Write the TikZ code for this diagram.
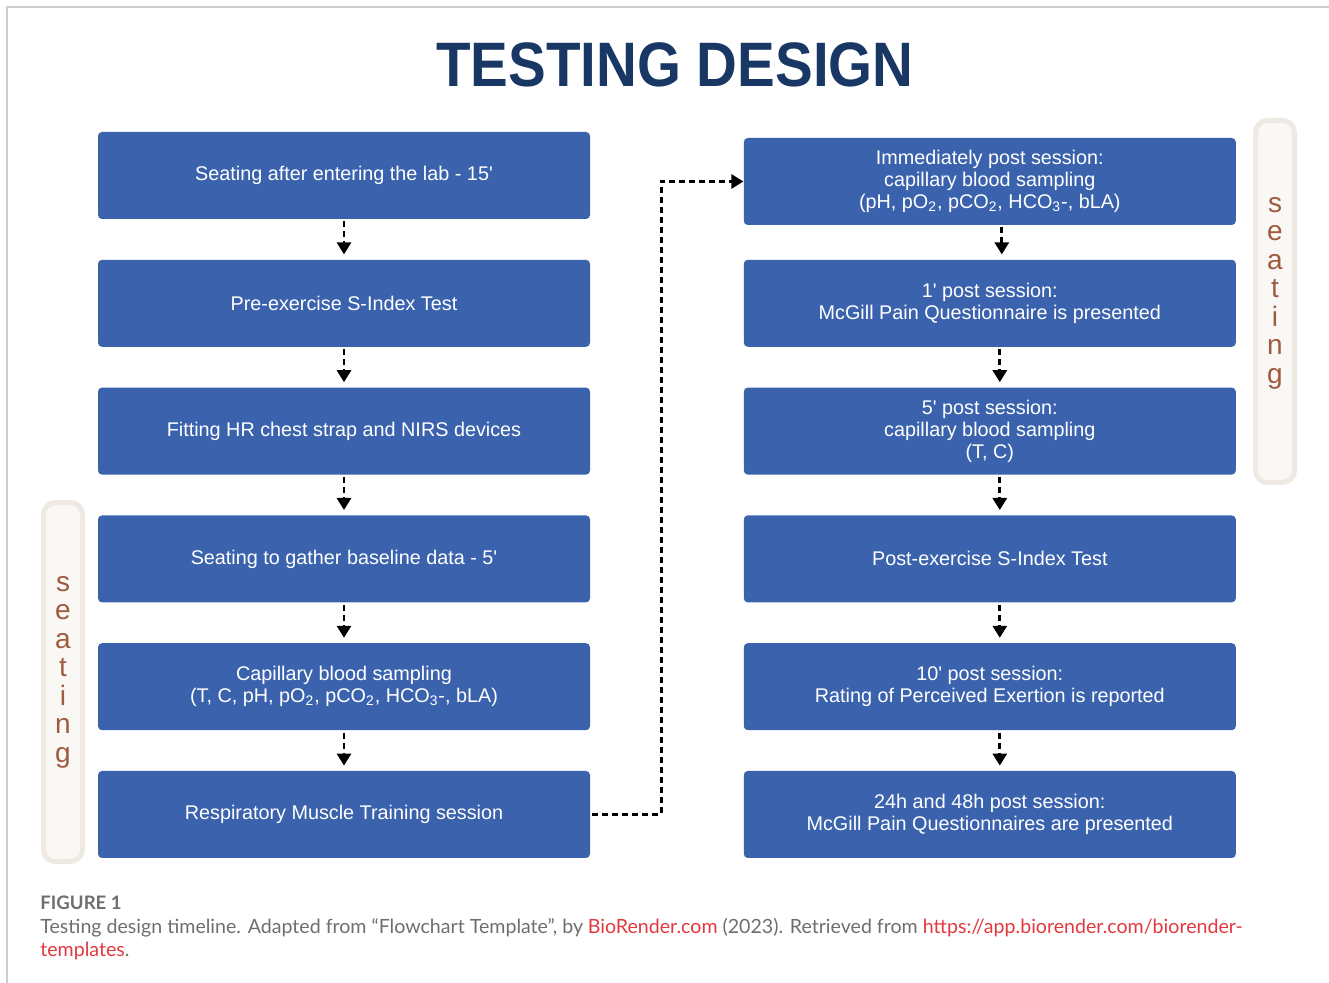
\documentclass[tikz,border=0pt]{standalone}
\usepackage{fontspec}
\setmainfont{Liberation Sans}
\newfontfamily\titlefont[FakeStretch=0.9]{Liberation Sans}
\newfontfamily\capfont{Lato}
\usepackage{tikz}
\usetikzlibrary{positioning, arrows.meta}

\definecolor{boxblue}{RGB}{59,99,173}
\definecolor{titleblue}{RGB}{25,55,100}
\definecolor{seatfill}{RGB}{249,248,244}
\definecolor{seatline}{RGB}{239,233,227}
\definecolor{seattext}{RGB}{160,90,64}
\definecolor{capgray}{RGB}{110,110,110}
\definecolor{linkred}{RGB}{226,56,63}
\definecolor{framegray}{RGB}{205,205,205}

\newcommand{\prm}{\textquotesingle}

\tikzstyle{stage} = [rectangle, rounded corners=2pt, minimum width=246pt, minimum height=43.5pt,
                     text centered, align=center, fill=boxblue, text=white,
                     font=\fontsize{9.9}{11}\selectfont]
\tikzstyle{arrow} = [line width=1.4pt, dash pattern=on 3pt off 2pt, shorten <=1pt, shorten >=2.5pt,
                     -{Triangle[width=7pt,length=6pt]}]
\tikzstyle{seatbar} = [rectangle, rounded corners=6pt, draw=seatline, line width=2.5pt,
                       fill=seatfill, minimum width=19.5pt]
\tikzstyle{seatchar} = [anchor=base, text=seattext, inner sep=0pt, font=\fontsize{14}{14}\selectfont]

\begin{document}
\begin{tikzpicture}[x=0.5pt, y=-0.5pt, node distance=20pt and 76.5pt]

    \useasboundingbox (0,0) rectangle (1329,983);
    \draw [framegray, line width=0.6pt] (7,983) -- (7,7) -- (1329,7);

    \node (title) [anchor=base, text=titleblue, font=\titlefont\bfseries\fontsize{31.4}{32}\selectfont]
        at (675,87) {TESTING DESIGN};

    % seating bars
    \node (seatL) [seatbar, minimum height=179.5pt] at (63,682) {};
    \node (seatR) [seatbar, minimum height=181pt] at (1275,301.5) {};
    \foreach \c [count=\i from 0] in {s,e,a,t,i,n,g} {
        \node (sl\i) [seatchar] at (63,591.5+28.5*\i) {\c};
        \node (sr\i) [seatchar] at (1275,212.5+28.5*\i) {\c};
    }

    % before and during the session
    \node (l1) [stage] at (344,175.5) {Seating after entering the lab - 15\prm};
    \node (l2) [stage, below=of l1] {Pre-exercise S-Index Test};
    \node (l3) [stage, below=of l2] {Fitting HR chest strap and NIRS devices};
    \node (l4) [stage, below=of l3] {Seating to gather baseline data - 5\prm};
    \node (l5) [stage, below=of l4] {Capillary blood sampling\\
        (T, C, pH, pO\textsubscript{2}, pCO\textsubscript{2}, HCO\textsubscript{3}-, bLA)};
    \node (l6) [stage, below=of l5] {Respiratory Muscle Training session};

    % after the session
    \node (r1) [stage, right=of l1, yshift=-3pt] {Immediately post session:\\capillary blood sampling\\
        (pH, pO\textsubscript{2}, pCO\textsubscript{2}, HCO\textsubscript{3}-, bLA)};
    \node (r2) [stage, right=of l2] {1\prm{} post session:\\McGill Pain Questionnaire is presented};
    \node (r3) [stage, right=of l3] {5\prm{} post session:\\capillary blood sampling\\(T, C)};
    \node (r4) [stage, right=of l4] {Post-exercise S-Index Test};
    \node (r5) [stage, right=of l5] {10\prm{} post session:\\Rating of Perceived Exertion is reported};
    \node (r6) [stage, right=of l6] {24h and 48h post session:\\McGill Pain Questionnaires are presented};

    \draw [arrow] (l1) -- (l2);
    \draw [arrow] (l2) -- (l3);
    \draw [arrow] (l3) -- (l4);
    \draw [arrow] (l4) -- (l5);
    \draw [arrow] (l5) -- (l6);
    \draw [arrow, shorten >=0pt] (l6.east) -- ++(35.5pt,0) |- (r1.west);
    \draw [arrow] ([xshift=6pt]r1.south) -- ([xshift=6pt]r2.north);
    \draw [arrow] ([xshift=5pt]r2.south) -- ([xshift=5pt]r3.north);
    \draw [arrow] ([xshift=5pt]r3.south) -- ([xshift=5pt]r4.north);
    \draw [arrow] ([xshift=5pt]r4.south) -- ([xshift=5pt]r5.north);
    \draw [arrow] ([xshift=5pt]r5.south) -- ([xshift=5pt]r6.north);

    % caption
    \node (figno) [anchor=base west, inner sep=0pt, text=capgray, font=\capfont\bfseries\fontsize{9.3}{12}\selectfont]
        at (40,909) {FIGURE 1};
    \node (caption) [anchor=base west, inner sep=0pt, align=left, text=capgray,
                     font=\capfont\fontsize{9.8}{12}\selectfont] at (40,957)
        {Testing design timeline. Adapted from “Flowchart Template”, by \textcolor{linkred}{BioRender.com} (2023). Retrieved from \textcolor{linkred}{https://app.biorender.com/biorender-}\\
         \textcolor{linkred}{templates}.};

\end{tikzpicture}
\end{document}
